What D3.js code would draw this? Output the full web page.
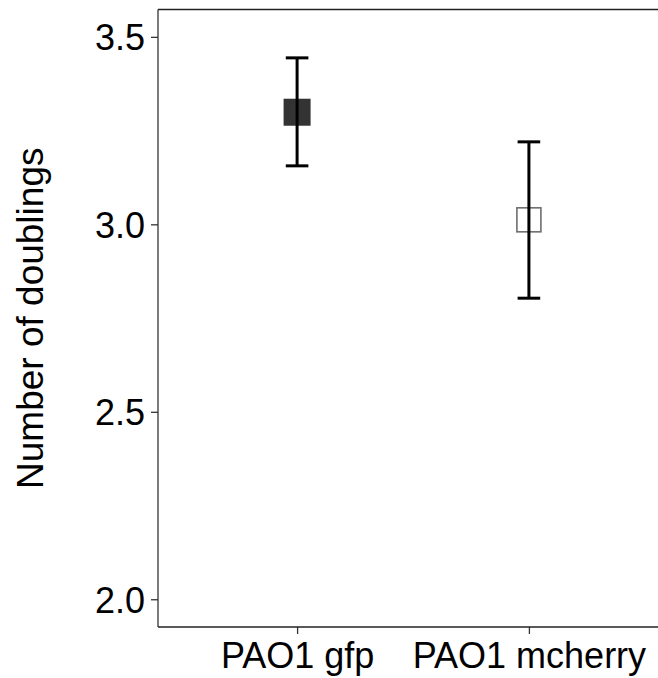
<!DOCTYPE html>
<html>
<head>
<meta charset="utf-8">
<script src="https://cdn.jsdelivr.net/npm/d3@7"></script>
<style>
  body { margin: 0; background: #fff; }
  text { font-family: "Liberation Sans", Arial, sans-serif; }
</style>
</head>
<body>
<div id="chart"></div>
<script>
const strains = ["PAO1 gfp", "PAO1 mcherry"];
const means = [3.299, 3.012];
const upper = [3.444, 3.220];
const lower = [3.156, 2.803];
const yTicks = [2.0, 2.5, 3.0, 3.5];

const W = 658, H = 678;
const panel = { left: 158, top: 9.5, right: 668, bottom: 627 };

const svg = d3.select("#chart")
  .append("svg")
  .attr("width", W)
  .attr("height", H);

const x = d3.scalePoint()
  .domain(strains)
  .range([panel.left, panel.right])
  .padding(0.6);

const y = d3.scaleLinear()
  .domain([1.926, 3.573])
  .range([panel.bottom, panel.top]);

// y axis
const yAxis = svg.append("g")
  .attr("transform", `translate(${panel.left},0)`)
  .call(d3.axisLeft(y).tickValues(yTicks).tickFormat(d3.format(".1f")).tickSize(7).tickPadding(6));
yAxis.select(".domain").remove();
yAxis.selectAll(".tick line").attr("stroke", "#333").attr("stroke-width", 1.3);
yAxis.selectAll(".tick text")
  .attr("fill", "#000")
  .style("font-size", "36px")
  .attr("dy", "0.36em");

// x axis
const xAxis = svg.append("g")
  .attr("transform", `translate(0,${panel.bottom})`)
  .call(d3.axisBottom(x).tickSize(7).tickPadding(8));
xAxis.select(".domain").remove();
xAxis.selectAll(".tick line").attr("stroke", "#333").attr("stroke-width", 1.3);
xAxis.selectAll(".tick text")
  .attr("fill", "#000")
  .style("font-size", "36px")
  .attr("dy", "0.71em");

// axis lines + top border
svg.append("line")
  .attr("x1", panel.left).attr("x2", panel.left)
  .attr("y1", panel.top).attr("y2", panel.bottom)
  .attr("stroke", "#333").attr("stroke-width", 1.3);
svg.append("line")
  .attr("x1", panel.left).attr("x2", W)
  .attr("y1", panel.bottom).attr("y2", panel.bottom)
  .attr("stroke", "#222").attr("stroke-width", 1.5);
svg.append("line")
  .attr("x1", panel.left).attr("x2", W)
  .attr("y1", panel.top).attr("y2", panel.top)
  .attr("stroke", "#222").attr("stroke-width", 1.5);

// y title
svg.append("text")
  .attr("transform", `translate(43,${(panel.top + panel.bottom) / 2}) rotate(-90)`)
  .attr("text-anchor", "middle")
  .style("font-size", "37px")
  .text("Number of doublings");

const data = strains.map((s, i) => ({ strain: s, mean: means[i], hi: upper[i], lo: lower[i] }));

// points
svg.append("g")
  .selectAll("rect")
  .data(data)
  .join("rect")
  .attr("x", (d, i) => x(d.strain) - (i === 0 ? 13.5 : 12))
  .attr("y", (d, i) => y(d.mean) - (i === 0 ? 13.5 : 12))
  .attr("width", (d, i) => i === 0 ? 27 : 24)
  .attr("height", (d, i) => i === 0 ? 27 : 24)
  .attr("fill", (d, i) => i === 0 ? "#333333" : "none")
  .attr("stroke", (d, i) => i === 0 ? "none" : "#6e6e6e")
  .attr("stroke-width", 1.6);

// error bars
const eb = svg.append("g")
  .selectAll("g")
  .data(data)
  .join("g")
  .attr("stroke", "#000")
  .attr("stroke-width", 3);
eb.append("line")
  .attr("x1", d => x(d.strain)).attr("x2", d => x(d.strain))
  .attr("y1", d => y(d.hi)).attr("y2", d => y(d.lo));
eb.append("line")
  .attr("x1", d => x(d.strain) - 11.3).attr("x2", d => x(d.strain) + 11.3)
  .attr("y1", d => y(d.hi)).attr("y2", d => y(d.hi));
eb.append("line")
  .attr("x1", d => x(d.strain) - 11.3).attr("x2", d => x(d.strain) + 11.3)
  .attr("y1", d => y(d.lo)).attr("y2", d => y(d.lo));
</script>
</body>
</html>
